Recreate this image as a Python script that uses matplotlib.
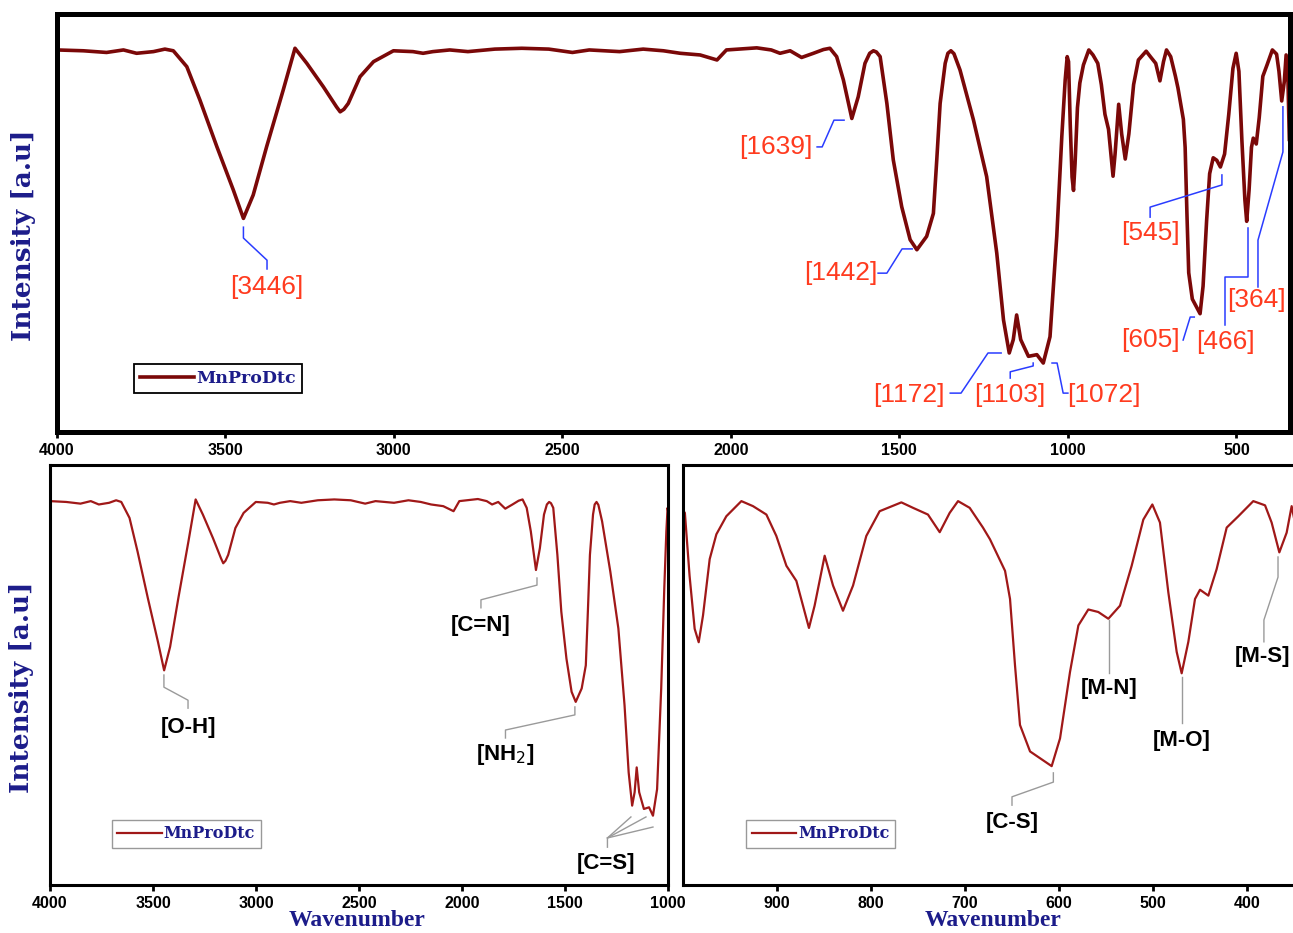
import numpy as np
import matplotlib.pyplot as plt

# FTIR spectrum of MnProDtc (wavenumber in cm-1, intensity in a.u.)
wavenumber = [4000, 3921, 3852, 3802, 3763, 3713, 3679, 3654, 3614, 3575, 3525, 3476,
              3446, 3417, 3377, 3328, 3293, 3258, 3209, 3170, 3159, 3148, 3135, 3100,
              3060, 3001,
              2943, 2913, 2884, 2834, 2780, 2700, 2620, 2540, 2470, 2420, 2330, 2260,
              2200, 2150, 2091, 2041, 2013, 1923, 1880, 1854, 1824, 1790, 1755, 1725,
              1706, 1686, 1666, 1641, 1622, 1602, 1588, 1577, 1568, 1557, 1537, 1518,
              1493, 1468, 1448, 1419, 1399, 1389, 1379, 1364, 1356, 1347, 1338, 1320,
              1280, 1241, 1211, 1191, 1174, 1162, 1152, 1140, 1117, 1092, 1073, 1053,
              1033, 1018, 1008, 1002,
              998, 993, 987.6, 983.3, 978.7, 971.6, 964.5, 953.9, 937.9, 925.5, 911.3,
              900.7, 890, 879.4, 872.3, 866, 860, 849.3, 840.4, 829.8, 819.1, 805,
              790.8, 767.7, 755.3, 739.4, 726.9, 716.3, 707.4, 695, 680.9, 673.4, 657.4,
              652.1, 646.8, 641.5, 630.8, 620.2, 607.8, 598.9, 588.3, 579.4, 568.8,
              558.2, 547.5, 535.1, 522.7, 510.3, 500.7, 492.6, 483.7, 474.8, 469.5,
              462.4, 455.3, 450, 441.1, 432.3, 421.6, 409.2, 393.3, 380.8, 373.8,
              365.6, 357.8, 352.5, 347, 343]
intensity = [91.4, 91.2, 90.8, 91.4, 90.6, 91.0, 91.6, 91.2, 87.4, 79.4, 68.3, 57.9,
             51.1, 56.7, 68.3, 81.8, 91.8, 88.2, 82.6, 77.8, 76.6, 77.2, 78.6, 85.0,
             88.6, 91.2,
             91.0, 90.6, 91.0, 91.4, 91.0, 91.6, 91.8, 91.6, 90.8, 91.4, 91.0, 91.6,
             91.2, 90.6, 90.2, 89.0, 91.4, 91.9, 91.4, 90.6, 91.2, 89.6, 90.6, 91.5,
             91.8, 89.8, 84.2, 75.0, 80.2, 88.2, 90.6, 91.2, 90.9, 89.8, 78.6, 65.1,
             53.9, 46.0, 43.6, 46.8, 52.3, 65.1, 78.6, 88.2, 90.6, 91.2, 90.5, 86.6,
             74.6, 61.1, 42.8, 26.8, 18.9, 22.1, 28.0, 22.1, 18.1, 18.5, 16.5, 22.8,
             46.8, 70.7, 84.2, 89.8,
             88.6, 73.6, 61.0, 57.8, 64.2, 77.6, 83.5, 87.8, 91.4, 90.2, 88.2,
             83.1, 76.0, 72.4, 66.5, 61.2, 66.5, 78.4, 71.3, 65.3, 71.3, 83.1,
             89.0, 91.1, 89.8, 88.2, 84.0, 88.6, 91.4, 89.8, 85.1, 82.3, 74.8,
             68.1, 52.3, 38.1, 31.8, 30.2, 28.3, 34.9, 50.7, 61.8, 65.6,
             65.0, 63.4, 66.5, 76.0, 87.0, 90.6, 86.3, 69.7, 55.5, 50.4,
             57.9, 68.1, 70.3, 68.9, 75.2, 85.1, 87.8, 91.4, 90.4, 86.3,
             79.2, 83.9, 90.2, 84.0, 70.0]

top_ticks = [4000, 3500, 3000, 2500, 2000, 1500, 1000, 500]
left_ticks = [4000, 3500, 3000, 2500, 2000, 1500, 1000]
right_ticks = [900, 800, 700, 600, 500, 400]

# (label, text position, alignment, leader line path)
top_notes = [
    ("[3446]", (3376, 34.7), "center", [(3446, 49.0), (3446, 46.4), (3376, 41.1), (3376, 39.0)]),
    ("[1639]", (1757, 68.2), "right", [(1744, 68.2), (1729, 68.2), (1694, 74.6), (1664, 74.6)]),
    ("[1442]", (1566, 38.0), "right", [(1563, 38.0), (1537, 38.0), (1492, 43.8), (1462, 43.8)]),
    ("[1172]", (1471, 8.85), "center", [(1349, 9.3), (1317, 9.3), (1237, 18.9), (1198, 18.9)]),
    ("[1103]", (1171, 8.85), "center", [(1171, 12.9), (1171, 14.4), (1103, 15.8), (1103, 16.5)]),
    ("[1072]", (1003, 8.85), "left", [(1047, 16.5), (1032, 16.5), (1014, 9.3), (1000, 9.3)]),
    ("[545]", (756, 47.6), "center", [(543, 61.5), (543, 59.1), (756, 53.8), (756, 51.4)]),
    ("[605]", (756, 22.0), "center", [(658, 22.0), (637, 27.5), (625, 27.5)]),
    ("[466]", (533, 21.6), "center", [(533, 25.6), (533, 37.1), (465, 37.1), (465, 48.8)]),
    ("[364]", (440, 31.6), "center", [(436, 34.7), (436, 45.9), (362, 67.0), (362, 77.8)]),
]
left_notes = [
    ("[O-H]", (3330, 37.6), [[(3447, 50.0), (3447, 47.1), (3330, 44.0), (3330, 42.1)]]),
    ("[C=N]", (1908, 61.9), [[(1636, 73.1), (1636, 71.4), (1908, 67.9), (1908, 66.0)]]),
    ("[NH$_2$]", (1789, 31.0), [[(1452, 42.4), (1452, 40.5), (1789, 36.9), (1789, 35.0)]]),
    ("[C=S]", (1299, 5.2), [[(1180, 16.2), (1294, 11.2), (1294, 9.0)],
                            [(1107, 16.2), (1294, 11.2)],
                            [(1073, 13.8), (1294, 11.2)]]),
]
right_notes = [
    ("[C-S]", (650, 14.8), [[(606, 26.7), (606, 24.5), (650, 21.0), (650, 19.0)]]),
    ("[M-N]", (547, 46.9), [[(547, 63.1), (547, 50.5)]]),
    ("[M-O]", (469, 34.5), [[(469, 49.5), (469, 38.6)]]),
    ("[M-S]", (383, 54.3), [[(367, 78.1), (367, 73.3), (382, 63.1), (382, 57.9)]]),
]

navy = "#1c1c8a"
ylab_font = dict(family="DejaVu Serif", weight="bold", color=navy, fontsize=19)
xlab_font = dict(family="Liberation Serif", weight="bold", color=navy, fontsize=17)


def style_axis(ax, ticks, xlim, spine_w):
    ax.set_xlim(*xlim)
    ax.set_ylim(0, 100)
    ax.set_xticks(ticks)
    ax.set_yticks([])
    for s in ax.spines.values():
        s.set_linewidth(spine_w)
    ax.tick_params(axis="x", direction="out", length=4, width=2, pad=4)
    for lab in ax.get_xticklabels():
        lab.set_fontfamily("Liberation Sans")
        lab.set_fontweight("bold")
        lab.set_fontsize(11.5)


def add_legend(ax, anchor, edge, fs, hl, lw):
    leg = ax.legend(loc="lower left", bbox_to_anchor=anchor, fancybox=False,
                    borderaxespad=0, edgecolor=edge, framealpha=1, handlelength=hl,
                    borderpad=0.35, handletextpad=0.1,
                    prop=dict(family="DejaVu Serif", weight="bold", size=fs))
    leg.get_frame().set_linewidth(lw)
    leg.get_texts()[0].set_color(navy)


fig = plt.figure(figsize=(12.93, 9.33), dpi=100)

# top panel: full range with wavenumber labels
ax1 = fig.add_axes([0.04385, 0.53698, 0.95383, 0.44802])
ax1.plot(wavenumber, intensity, color="#7a0808", lw=2.6, label="MnProDtc")
style_axis(ax1, top_ticks, (4000, 341), 3.6)
ax1.set_ylabel("Intensity [a.u]", **ylab_font)
ax1.yaxis.set_label_coords(-0.0168, 0.47)
for text, pos, ha, path in top_notes:
    xs, ys = zip(*path)
    ax1.plot(xs, ys, color="#2a3cff", lw=1.1)
    ax1.text(pos[0], pos[1], text, ha=ha, va="center", fontsize=19,
             family="Liberation Sans", color="#ff3b1f")
add_legend(ax1, (0.063, 0.093), "black", 12.5, 3.1, 1.3)

# bottom left: 4000-1000 with group assignments
ax2 = fig.add_axes([0.03867, 0.05145, 0.47796, 0.45016])
ax2.plot(wavenumber, intensity, color="#a01818", lw=1.6, label="MnProDtc")
style_axis(ax2, left_ticks, (4000, 1000), 2.2)
ax2.set_ylabel("Intensity [a.u]", **ylab_font)
ax2.yaxis.set_label_coords(-0.026, 0.47)
ax2.set_xlabel("Wavenumber", **xlab_font)
ax2.xaxis.set_label_coords(0.497, -0.06)

# bottom right: 1000-350 fingerprint region
ax3 = fig.add_axes([0.52823, 0.05145, 0.47981, 0.45016])
ax3.plot(wavenumber, intensity, color="#a01818", lw=1.6, label="MnProDtc")
style_axis(ax3, right_ticks, (1000, 340), 2.2)
ax3.set_xlabel("Wavenumber", **xlab_font)
ax3.xaxis.set_label_coords(0.5, -0.06)

for ax, notes in ((ax2, left_notes), (ax3, right_notes)):
    for text, pos, paths in notes:
        for path in paths:
            xs, ys = zip(*path)
            ax.plot(xs, ys, color="#9a9a9a", lw=1.0)
        ax.text(pos[0], pos[1], text, ha="center", va="center", fontsize=16,
                family="Liberation Sans", weight="bold", color="black")
    add_legend(ax, (0.1 if ax is ax2 else 0.1015, 0.088), "#999999", 11.5, 2.8, 1.0)

fig.savefig("out.png", dpi=100)
